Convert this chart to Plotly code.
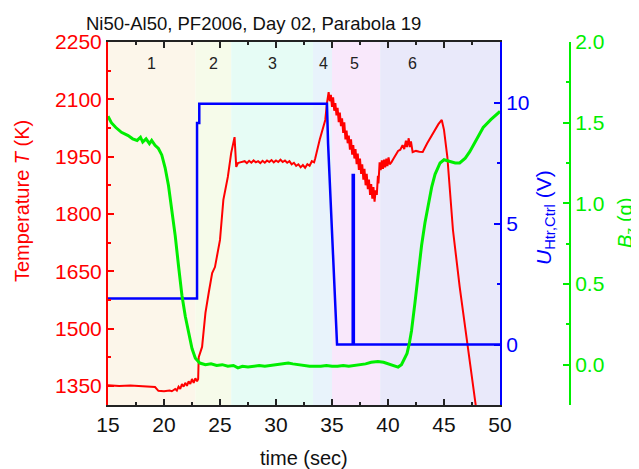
import plotly.graph_objects as go

# ---------------- data ----------------
temp_t = [15.0, 16.0, 17.0, 18.0, 18.6, 19.2, 19.5, 20.0, 20.5, 20.7, 21.0, 21.15, 21.3, 21.45, 21.6,
          21.75, 21.9, 22.05, 22.2, 22.35, 22.5, 22.65, 22.8, 22.95, 23.05, 23.1, 23.4, 23.7, 24.0,
          24.3, 24.55, 24.8, 25.0, 25.3, 25.7, 26.0, 26.3, 26.45, 26.6, 26.8, 27.05,
          27.2, 27.4, 27.6, 27.8, 28.0, 28.2, 28.4, 28.6, 28.8, 29.0, 29.2, 29.4, 29.6, 29.8, 30.0,
          30.2, 30.4, 30.6, 30.8, 31.0, 31.2, 31.4, 31.6, 31.8, 32.0, 32.2, 32.4, 32.6, 32.8, 33.0,
          33.2, 33.4, 33.5, 33.9, 34.2, 34.4, 34.55, 34.7,
          34.8, 34.9, 35.0, 35.1, 35.2, 35.3, 35.4, 35.5, 35.6, 35.7, 35.8, 35.9, 36.0, 36.1, 36.2,
          36.3, 36.4, 36.5, 36.6, 36.7, 36.8, 36.9, 37.0, 37.1, 37.2, 37.3, 37.4, 37.5, 37.6, 37.7,
          37.8, 37.9, 38.0, 38.1, 38.2, 38.3, 38.4, 38.5, 38.6, 38.7, 38.8, 38.9, 39.0, 39.1, 39.15,
          39.25, 39.35, 39.45, 39.55, 39.65, 39.75, 39.85, 39.95, 40.05, 40.15, 40.3, 40.5, 40.7,
          40.9, 41.1, 41.3, 41.45, 41.6, 41.7, 41.85, 41.95, 42.05, 42.2, 42.5, 42.8, 43.1, 43.5,
          44.0, 44.5, 44.8, 45.0, 45.3, 45.8, 46.4, 47.05, 47.8, 48.2]
temp_K = [1352, 1350, 1351, 1350, 1349, 1347, 1337, 1336, 1338, 1336, 1342, 1338, 1348, 1342, 1355,
          1348, 1358, 1350, 1362, 1355, 1368, 1358, 1370, 1362, 1368, 1425, 1452, 1541, 1595,
          1645, 1661, 1700, 1732, 1837, 1897, 1960, 2001, 1923, 1933, 1935, 1936,
          1938, 1933, 1939, 1934, 1940, 1935, 1938, 1933, 1939, 1934, 1940, 1936, 1941, 1935, 1940,
          1936, 1942, 1936, 1940, 1934, 1938, 1930, 1934, 1926, 1930, 1922, 1928, 1921, 1930, 1926,
          1938, 1935, 1945, 1994, 2030, 2046, 2090, 2119,
          2095, 2112, 2080, 2105, 2070, 2090, 2058, 2078, 2040, 2065, 2030, 2050, 2012, 2040, 1995,
          2018, 1985, 2005, 1968, 1995, 1955, 1980, 1945, 1970, 1930, 1958, 1915, 1945, 1905, 1930,
          1890, 1918, 1875, 1905, 1865, 1890, 1850, 1878, 1840, 1870, 1832, 1862, 1850, 1900, 1880,
          1935, 1915, 1940, 1918, 1942, 1922, 1945, 1925, 1948, 1930, 1935, 1945, 1955,
          1965, 1968, 1980, 1970, 1992, 1975, 1998, 1975, 1990, 1962, 1965, 1963, 1962, 1985,
          2010, 2035, 2046, 2020, 1949, 1758, 1609, 1462, 1305, 1220]

volt_t = [15.0, 22.95, 22.95, 23.15, 23.15, 34.55, 34.65, 35.45, 36.85, 36.85, 36.95, 36.95, 50.0]
volt_V = [1.9, 1.9, 9.15, 9.15, 9.95, 9.95, 8.3, 0.0, 0.0, 7.0, 7.0, 0.0, 0.0]

bz_t = [15.0, 15.3, 15.7, 16.2, 16.8, 17.2, 17.6, 17.9, 18.1, 18.4, 18.7, 18.9, 19.2, 19.5, 19.8,
        20.1, 20.4, 20.7, 21.0, 21.3, 21.6, 21.9, 22.2, 22.5, 22.8, 23.2, 23.7, 24.2, 24.7, 25.2,
        25.7, 26.2, 26.6, 27.0, 27.5, 28.0, 28.5, 29.0, 29.5, 30.0, 30.5, 31.1, 31.5, 32.0, 32.5,
        33.0, 33.5, 34.0, 34.5, 35.0, 35.5, 36.0, 36.5, 37.0, 37.5, 38.0, 38.5, 39.1, 39.6, 40.2,
        40.6, 40.9, 41.2, 41.5, 41.7, 41.9, 42.1, 42.4, 42.7, 43.0, 43.3, 43.6, 43.9, 44.2, 44.65,
        45.0, 45.5, 46.0, 46.4, 46.9, 47.3, 47.9, 48.5, 49.2, 49.8, 50.0]
bz_g = [1.54, 1.50, 1.47, 1.44, 1.42, 1.40, 1.39, 1.41, 1.38, 1.40, 1.37, 1.39, 1.36, 1.34, 1.30,
        1.22, 1.11, 0.96, 0.80, 0.61, 0.43, 0.30, 0.19, 0.10, 0.04, 0.01, 0.0, 0.005, -0.005, 0.0,
        -0.01, -0.005, -0.02, -0.01, -0.015, -0.01, -0.005, -0.01, -0.005, 0.0, 0.005, 0.01, 0.005, 0.0, -0.005,
        -0.01, -0.01, -0.01, -0.005, -0.01, -0.01, -0.005, -0.01, -0.005, 0.0, 0.005, 0.015, 0.02, 0.015, 0.0,
        -0.01, -0.015, 0.0, 0.04, 0.07, 0.13, 0.21, 0.38, 0.57, 0.74, 0.88, 1.0, 1.10, 1.18, 1.25,
        1.27, 1.26, 1.25, 1.25, 1.28, 1.32, 1.40, 1.47, 1.52, 1.56, 1.57]

band_edges = [15.0, 22.8, 26.0, 33.3, 35.0, 39.3, 50.0]
band_colors = ["#fcf6ea", "#f6fbea", "#e6fcf5", "#e8f3fb", "#f9e8fb", "#e9e9fa"]
band_labels = ["1", "2", "3", "4", "5", "6"]
band_label_t = [18.9, 24.4, 29.7, 34.2, 37.05, 42.2]

x_ticks = [15, 20, 25, 30, 35, 40, 45, 50]
t_ticks = [1350, 1500, 1650, 1800, 1950, 2100, 2250]
v_ticks = [0, 5, 10]
b_ticks = [0.0, 0.5, 1.0, 1.5, 2.0]

title_text = "Ni50-Al50, PF2006, Day 02, Parabola 19"

# ---------------- figure ----------------
FONT = "Liberation Sans, Arial, sans-serif"
RED, BLUE, GREEN = "#ff0000", "#0000ff", "#00ee00"

OFF = 8                      # page body margin
W, H = 639 - OFF, 469 - OFF
L, T = 108 - OFF, 42 - OFF
plot_w, plot_h = 392, 363
R = 50
pw = W - L - R
B = H - T - plot_h
xdom = plot_w / pw


def px_x(p):
    return (p - OFF - L) / pw


def px_y(p):
    return (H - B - (p - OFF)) / plot_h


fig = go.Figure()

fig.add_trace(go.Scatter(x=temp_t, y=temp_K, mode="lines", line=dict(color=RED, width=2),
                         yaxis="y", showlegend=False))
fig.add_trace(go.Scatter(x=volt_t, y=volt_V, mode="lines", line=dict(color=BLUE, width=2.5),
                         yaxis="y2", showlegend=False))
fig.add_trace(go.Scatter(x=bz_t, y=bz_g, mode="lines", line=dict(color=GREEN, width=3),
                         yaxis="y3", showlegend=False))

shapes = []
for i in range(len(band_colors)):
    shapes.append(dict(type="rect", xref="x", yref="paper", x0=band_edges[i], x1=band_edges[i + 1],
                       y0=0, y1=1, fillcolor=band_colors[i], line=dict(width=0), layer="below"))

annotations = []
for lab, tx in zip(band_labels, band_label_t):
    annotations.append(dict(x=tx, y=px_y(63), xref="x", yref="paper", text=lab, showarrow=False,
                            font=dict(size=16, color="#222222", family=FONT),
                            xanchor="center", yanchor="middle"))

annotations += [
    dict(x=px_x(253), y=px_y(24), xref="paper", yref="paper", text=title_text, showarrow=False,
         font=dict(size=18.5, color="#111111", family=FONT), xanchor="center", yanchor="middle"),
    dict(x=px_x(22), y=px_y(201), xref="paper", yref="paper", text="Temperature <i>T</i> (K)",
         showarrow=False, textangle=-90, font=dict(size=20, color=RED, family=FONT),
         xanchor="center", yanchor="middle"),
    dict(x=px_x(545), y=px_y(218), xref="paper", yref="paper",
         text="<i>U</i><sub>Htr,Ctrl</sub> (V)", showarrow=False, textangle=-90,
         font=dict(size=21, color=BLUE, family=FONT), xanchor="center", yanchor="middle"),
    dict(x=px_x(626), y=px_y(223), xref="paper", yref="paper",
         text="<i>B</i><sub>z</sub> (g)", showarrow=False, textangle=-90,
         font=dict(size=20, color=GREEN, family=FONT), xanchor="center", yanchor="middle"),
    dict(x=px_x(304), y=px_y(458), xref="paper", yref="paper", text="time (sec)", showarrow=False,
         font=dict(size=20, color="#111111", family=FONT), xanchor="center", yanchor="middle"),
]

fig.update_layout(
    width=W, height=H,
    margin=dict(l=L, r=R, t=T, b=B, pad=0),
    paper_bgcolor="white", plot_bgcolor="white",
    font=dict(family=FONT, size=20),
    showlegend=False,
    shapes=shapes,
    annotations=annotations,
    xaxis=dict(domain=[0, xdom], range=[15, 50], tickvals=x_ticks, ticks="inside", ticklen=6,
               tickwidth=1.5, tickcolor="#222222", showline=True, linecolor="#222222", linewidth=2,
               mirror="ticks", showgrid=False, zeroline=False,
               tickfont=dict(size=21, color="#111111", family=FONT),
               minor=dict(dtick=2.5, tick0=15, ticks="inside", ticklen=3, tickcolor="#222222")),
    yaxis=dict(range=[1300, 2250], tickvals=t_ticks, ticks="inside", ticklen=6, tickwidth=1.5,
               tickcolor=RED, showline=True, linecolor=RED, linewidth=2, showgrid=False,
               zeroline=False, tickfont=dict(size=21, color=RED, family=FONT),
               minor=dict(dtick=75, tick0=1350, ticks="inside", ticklen=3, tickcolor=RED)),
    yaxis2=dict(range=[-2.5, 12.5], overlaying="y", side="right", anchor="x", tickvals=v_ticks,
                ticks="inside", ticklen=6, tickwidth=1.5, tickcolor=BLUE, showline=True,
                linecolor=BLUE, linewidth=2, showgrid=False, zeroline=False,
                tickfont=dict(size=21, color=BLUE, family=FONT),
                minor=dict(dtick=2.5, tick0=0, ticks="inside", ticklen=3, tickcolor=BLUE)),
    yaxis3=dict(range=[-0.25, 2.0], overlaying="y", side="right", anchor="free",
                position=px_x(570), tickvals=b_ticks, tickformat=".1f",
                ticks="inside", ticklen=6, tickwidth=1.5, tickcolor=GREEN, showline=True,
                linecolor=GREEN, linewidth=2, showgrid=False, zeroline=False,
                tickfont=dict(size=21, color=GREEN, family=FONT),
                minor=dict(dtick=0.25, tick0=0, ticks="inside", ticklen=3, tickcolor=GREEN)),
)

fig.write_html("out.html")
